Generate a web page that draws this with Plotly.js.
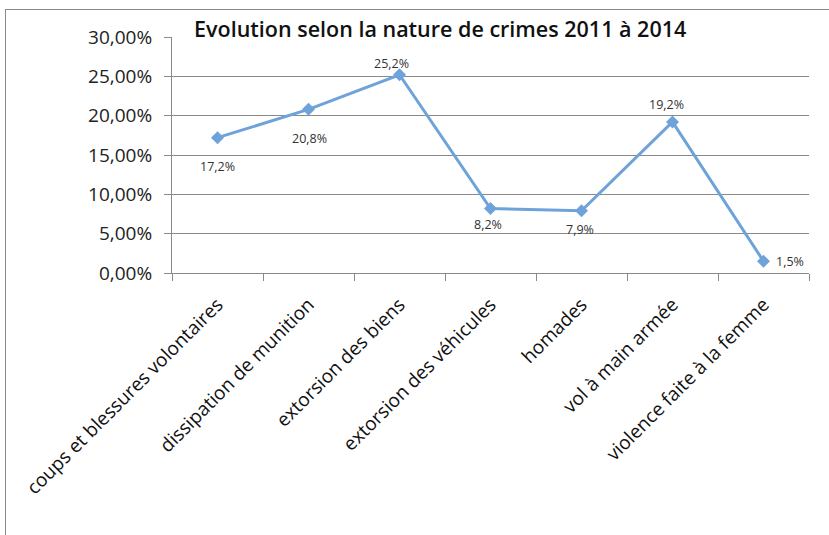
<!DOCTYPE html>
<html>
<head>
<meta charset="utf-8">
<script src="https://cdn.plot.ly/plotly-3.0.1.min.js"></script>
<style>
html,body{margin:0;padding:0;background:#fff;overflow:hidden;}
#frame{position:absolute;left:5px;top:9px;width:900px;height:700px;border:1.5px solid #8a8a8a;box-sizing:border-box;}
#chart{position:absolute;left:0;top:0;width:829px;height:535px;}
</style>
</head>
<body>
<div id="frame"></div>
<div id="chart"></div>
<script>
const categories = [
  "coups et blessures volontaires",
  "dissipation de munition",
  "extorsion des biens",
  "extorsion des véhicules",
  "homades",
  "vol à main armée",
  "violence faite à la femme"
];
const values = [0.172, 0.208, 0.252, 0.082, 0.079, 0.192, 0.015];
const yTickVals = [0, 0.05, 0.10, 0.15, 0.20, 0.25, 0.30];
const titleText = "Evolution selon la nature de crimes 2011 à 2014";
// label offsets (pixels) for each data label
const labelShiftX = [0, 1, -8, -3, -2, -6, 26];
const labelShiftY = [-29, -29, 11, -16, -19, 17, 0];

const fontFam = "'Open Sans', 'Liberation Sans', sans-serif";

const trace = {
  x: categories,
  y: values,
  type: 'scatter',
  mode: 'lines+markers',
  line: {color: '#6EA3DA', width: 3},
  marker: {symbol: 'diamond', size: 10, color: '#6EA3DA'},
  hoverinfo: 'skip',
  showlegend: false
};

const annotations = values.map((v, i) => ({
  x: categories[i],
  y: v,
  xref: 'x', yref: 'y',
  text: (v * 100).toFixed(1).replace('.', ',') + '%',
  showarrow: false,
  xshift: labelShiftX[i],
  yshift: labelShiftY[i],
  font: {family: fontFam, size: 12.5, color: '#333333'}
}));

const layout = {
  width: 829,
  height: 535,
  paper_bgcolor: 'rgba(0,0,0,0)',
  plot_bgcolor: 'rgba(0,0,0,0)',
  separators: ', ',
  margin: {l: 172, r: 20, t: 37, b: 262, pad: 0},
  title: {
    text: titleText,
    x: 0.531, xanchor: 'center',
    y: 0.944, yanchor: 'middle',
    font: {family: fontFam, size: 21.5, color: '#111111', weight: 600}
  },
  xaxis: {
    type: 'category',
    range: [-0.5, 6.5],
    tickson: 'boundaries',
    ticks: 'outside',
    ticklen: 7,
    tickcolor: '#8a8a8a',
    tickwidth: 1,
    showline: true,
    linecolor: '#8a8a8a',
    linewidth: 1,
    showgrid: false,
    tickangle: -45,
    ticklabelstandoff: 12,
    tickfont: {family: fontFam, size: 19, color: '#111111'},
    fixedrange: true
  },
  yaxis: {
    range: [0, 0.30],
    tickvals: yTickVals,
    tickformat: '.2%',
    ticks: 'outside',
    ticklen: 7,
    tickcolor: '#8a8a8a',
    showline: true,
    linecolor: '#8a8a8a',
    linewidth: 1,
    showgrid: true,
    gridcolor: '#8a8a8a',
    gridwidth: 1,
    zeroline: false,
    ticklabelstandoff: 8,
    tickfont: {family: fontFam, size: 19, color: '#222222'},
    fixedrange: true
  },
  annotations: annotations
};

Plotly.newPlot('chart', [trace], layout, {displayModeBar: false, staticPlot: true});
</script>
</body>
</html>
